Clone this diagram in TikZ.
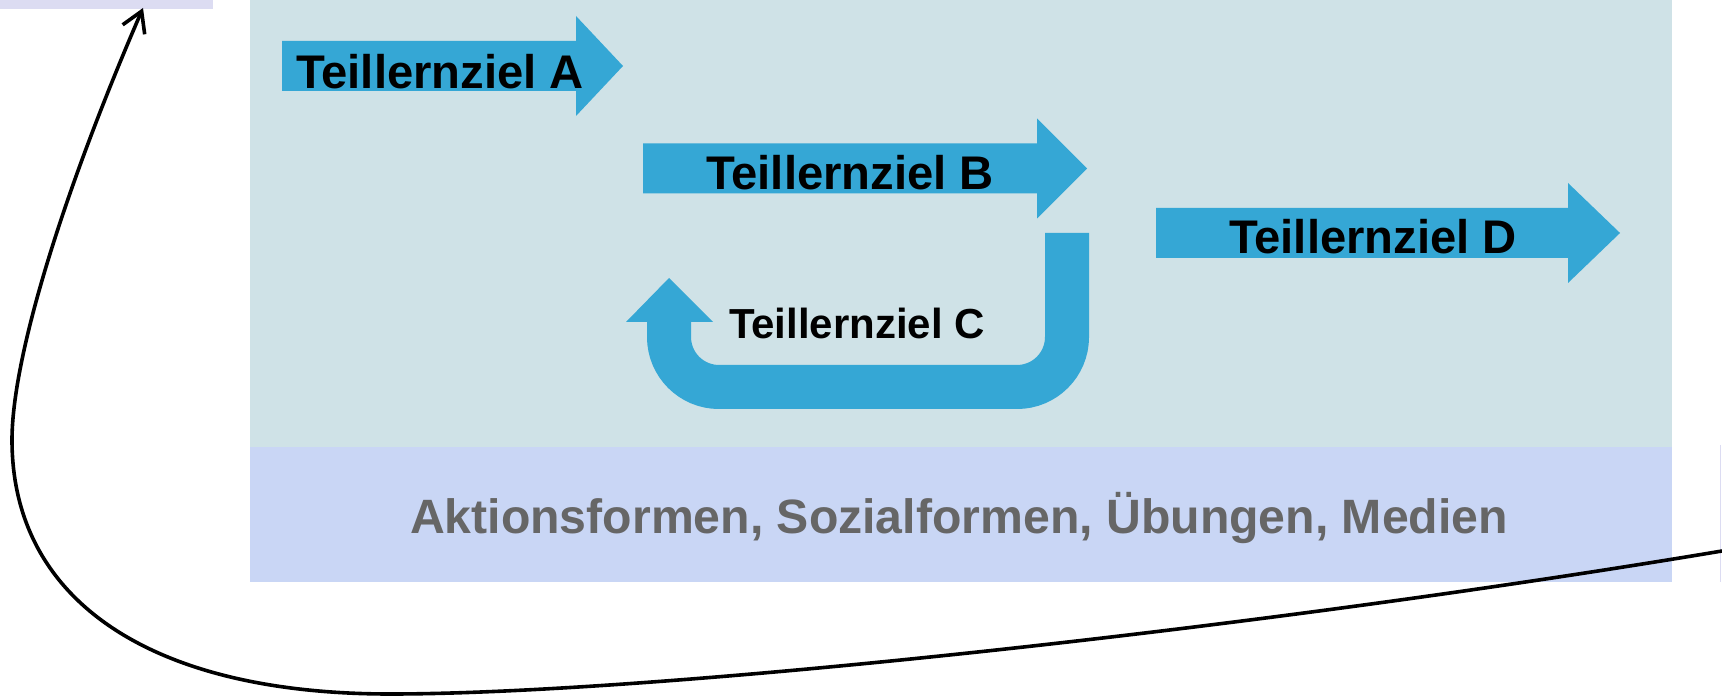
\documentclass[tikz,border=0pt]{standalone}
\usepackage{fontspec}
\setmainfont{Liberation Sans}
\usetikzlibrary{arrows.meta}
\definecolor{panel}{HTML}{CFE2E7}
\definecolor{leiste}{HTML}{C9D6F5}
\definecolor{oben}{HTML}{DCDCF2}
\definecolor{pfeilblau}{HTML}{35A7D5}
\definecolor{grautext}{HTML}{666666}
\tikzset{
	px/.style={x=0.5pt,y=-0.5pt},
	pfeil/.style={fill=pfeilblau},
	ziel/.style={anchor=base,inner sep=0pt,font=\fontsize{23.6}{27}\selectfont\bfseries},
	zielklein/.style={ziel,font=\fontsize{21}{24}\selectfont\bfseries},
	medien/.style={anchor=base,inner sep=0pt,text=grautext,font=\fontsize{24.1}{28}\selectfont\bfseries},
	umkehr/.style={draw=pfeilblau,line width=22pt,rounded corners=25pt},
	bogen/.style={line width=1.8pt,-{Straight Barb[length=10pt,width=12pt]}},
	}

\begin{document}
\begin{tikzpicture}[px]
 \useasboundingbox (0,0) rectangle (1722,699);
 \fill[oben] (0,0) rectangle (213,9);
 \fill[panel] (250,0) rectangle (1672,447);
 \fill[leiste] (250,447) rectangle (1672,582);
 \draw[oben,line width=0.5pt] (1720,445) -- (1720,582);

 % gerade Pfeile A, B, D
 \foreach \xa/\xb/\xc/\y in {282/576/623/66, 643/1037/1087/168.5, 1156/1568/1620/233}
 \fill[pfeil] (\xa,\y-25) -- (\xb,\y-25) -- (\xb,\y-50) -- (\xc,\y) -- (\xb,\y+50) -- (\xb,\y+25) -- (\xa,\y+25) -- cycle;

 % Schleife C
 \draw[umkehr] (1067,233) -- (1067,387) -- (669,387) -- (669,318);
 \fill[pfeil] (626,322) -- (713,322) -- (669,278) -- cycle;

\node (ta) at (440,89) [ziel] {Teillernziel A};
\node (tb) at (850,190) [ziel] {Teillernziel B};
\node (tc) at (857,339) [zielklein] {Teillernziel C};
\node (td) at (1373,254) [ziel] {Teillernziel D};
\node (me) at (959,533) [medien] {Aktionsformen, Sozialformen, Übungen, Medien};

\coordinate (start) at (1722,551);
\coordinate (ende) at (143,8);
 \draw[bogen] (start) .. controls (1250,630) and (650,694) .. (390,694)
   .. controls (150,694) and (12,600) .. (12,440)
   .. controls (12,360) and (60,200) .. (ende);
\end{tikzpicture}
\end{document}
